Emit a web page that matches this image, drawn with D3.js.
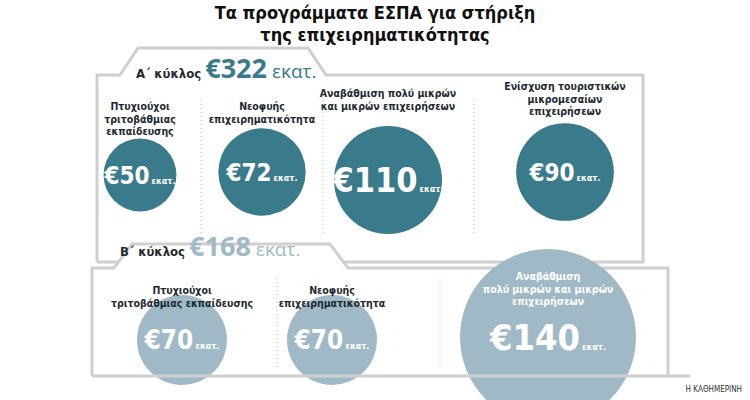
<!DOCTYPE html><html><head><meta charset="utf-8">
<script src="https://cdn.jsdelivr.net/npm/d3@7"></script>
<style>body{margin:0;background:#fff}text{font-family:"DejaVu Sans Condensed","Open Sans",sans-serif}</style></head><body>
<svg id="c" width="750" height="400"></svg>
<script>
const titleLines=["Τα προγράμματα ΕΣΠΑ για στήριξη","της επιχειρηματικότητας"];
const cyclesLabels=["Α΄ κύκλος","Β΄ κύκλος"];
const cycleTotals=[322,168];
const catsA=[["Πτυχιούχοι","τριτοβάθμιας","εκπαίδευσης"],["Νεοφυής","επιχειρηματικότητα"],["Αναβάθμιση πολύ μικρών","και μικρών επιχειρήσεων"],["Ενίσχυση τουριστικών","μικρομεσαίων","επιχειρήσεων"]];
const valsA=[50,72,110,90];
const catsB=[["Πτυχιούχοι","τριτοβάθμιας εκπαίδευσης"],["Νεοφυής","επιχειρηματικότητα"],["Αναβάθμιση","πολύ μικρών και μικρών","επιχειρήσεων"]];
const valsB=[70,70,140];
const unit="εκατ.";
const source="Η ΚΑΘΗΜΕΡΙΝΗ";

const svg=d3.select("#c");
const dark="#1e2a30", cA="#3a7b8b", cB="#9fb9c6";
svg.selectAll("text.t").data(titleLines).join("text").attr("x",375).attr("y",19+0).attr("y",(d,i)=>19+i*22)
 .attr("text-anchor","middle").attr("font-weight","bold").attr("font-size",18).attr("fill","#111").text(d=>d);

const line=d3.line();
svg.append("path").attr("d",line([[97,262],[97,75],[120,75],[138,48],[308,48],[326,75],[643,75],[643,262],[97,262]]))
 .attr("fill","#fff").attr("stroke","#cfcfcf").attr("stroke-width",3);
svg.append("path").attr("d",line([[92,376],[92,268],[114,268],[132,244],[330,244],[348,268],[668,268],[668,376]]))
 .attr("fill","#fff").attr("stroke","#cfcfcf").attr("stroke-width",3);

function header(x,y,i,col){
  const t=svg.append("text").attr("x",x).attr("y",y).attr("fill",dark).attr("font-weight","bold");
  t.append("tspan").attr("font-size",13).text(cyclesLabels[i]+" ");
  t.append("tspan").attr("font-size",27).attr("fill",col).attr("font-family","Open Sans").text("€"+cycleTotals[i]);
  t.append("tspan").attr("font-size",19).attr("fill",col).attr("font-family","Open Sans").attr("font-weight","normal").text(" "+unit);
}
header(136,78,0,cA);
header(120,256,1,cB);

const rA=d3.scaleSqrt().domain([0,110]).range([0,54]);
const xA=d3.scaleOrdinal().domain(d3.range(4)).range([140,262,388,565]);
const yA=[175,172,180,172];
const rB=d3.scaleLinear().domain([70,140]).range([45,88]);
const xB=d3.scaleOrdinal().domain(d3.range(3)).range([182,332,548]);
const yB=[340,340,322];

function circ(cx,cy,r,v,col,fs){
  svg.append("circle").attr("cx",cx).attr("cy",cy).attr("r",r).attr("fill",col);
  const t=svg.append("text").attr("x",cx).attr("y",cy+fs*0.36).attr("text-anchor","middle").attr("fill","#fff").attr("font-weight","bold");
  t.append("tspan").attr("font-size",fs).text("€"+v);
  t.append("tspan").attr("font-size",9).attr("dx",2).text(unit);
}
function label(x,y,lines,col){
  svg.append("text").attr("text-anchor","middle").attr("font-weight","bold").attr("font-size",10.5).attr("fill",col)
   .selectAll("tspan").data(lines).join("tspan").attr("x",x).attr("y",(d,i)=>y+i*12.5).text(d=>d);
}
valsA.forEach((v,i)=>circ(xA(i),yA[i],rA(v),v,cA,v>=100?34:24));
const labYA=[110,110,97,90];
catsA.forEach((c,i)=>label(xA(i),labYA[i],c,dark));
valsB.forEach((v,i)=>circ(xB(i),yB[i]+(i==2?15:0),rB(v),v,cB,v>=100?36:26));
const labYB=[294,294,280];
catsB.forEach((c,i)=>label(xB(i),labYB[i],c,i==2?"#fff":dark));
[201,323,474].forEach(x=>svg.append("line").attr("x1",x).attr("x2",x).attr("y1",100).attr("y2",235).attr("stroke","#bbb").attr("stroke-dasharray","1,3"));
[277,440].forEach(x=>svg.append("line").attr("x1",x).attr("x2",x).attr("y1",278).attr("y2",368).attr("stroke","#bbb").attr("stroke-dasharray","1,3"));
svg.append("line").attr("x1",92).attr("x2",690).attr("y1",376).attr("y2",376).attr("stroke","#cfcfcf").attr("stroke-width",3);
svg.append("text").attr("x",742).attr("y",392).attr("text-anchor","end").attr("font-size",8).attr("fill","#333").attr("font-family","Liberation Serif").text(source);
</script></body></html>
